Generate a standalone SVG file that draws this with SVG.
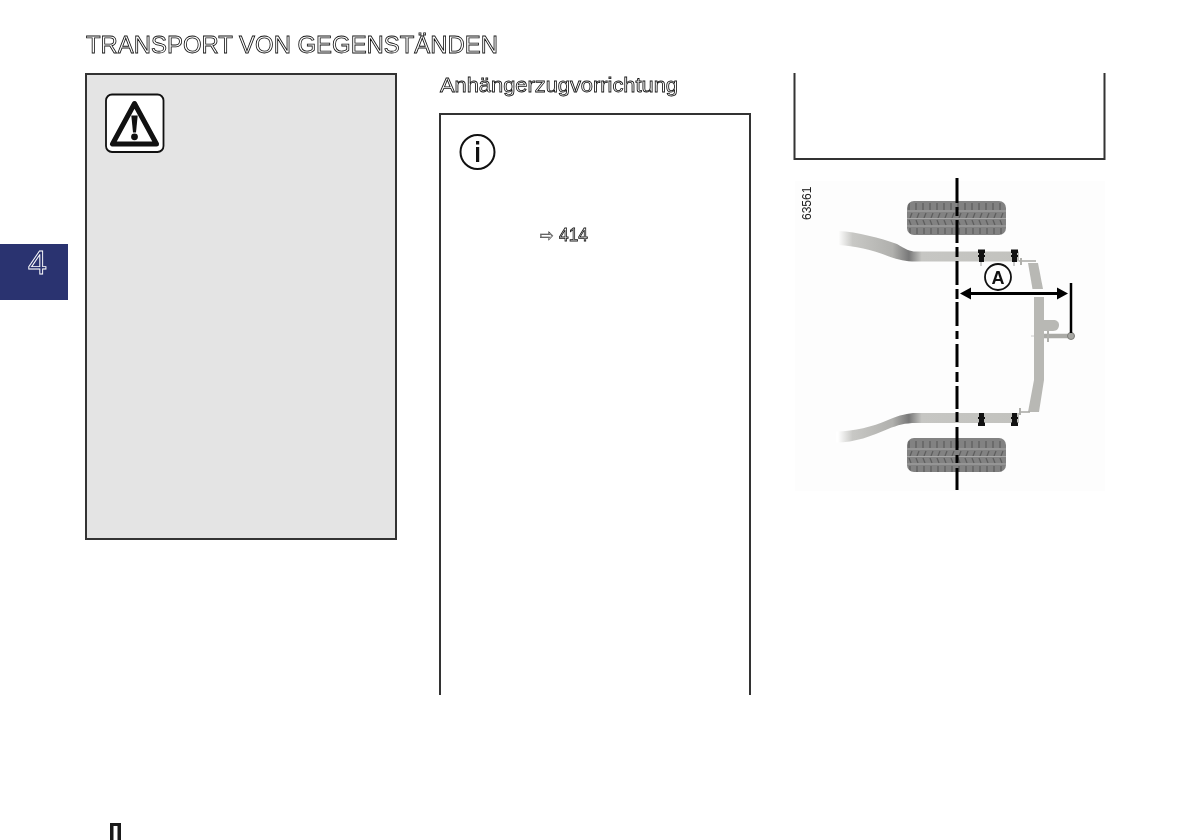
<svg xmlns="http://www.w3.org/2000/svg" width="1192" height="840" viewBox="0 0 1192 840">
<style>
text{filter:url(#gray)}
.o{font-family:"Liberation Sans",Arial,sans-serif;fill:#fff;stroke:#111;stroke-width:.8}
.b{fill:none;stroke:#333;stroke-width:2}
.k{fill:#111}
.bar{fill:#b8b8b4}
</style>
<defs>
<filter id="gray" x="-5%" y="-30%" width="110%" height="160%" color-interpolation-filters="sRGB"><feOffset dx="0" dy="0"/></filter>
<linearGradient id="beamTop" gradientUnits="userSpaceOnUse" x1="838" y1="0" x2="1020" y2="0">
<stop offset="0" stop-color="#fff"/><stop offset=".08" stop-color="#c8c8c5"/><stop offset=".3" stop-color="#b0b0ad"/><stop offset=".39" stop-color="#787878"/><stop offset=".46" stop-color="#c6c6c3"/><stop offset="1" stop-color="#c2c2be"/>
</linearGradient>
<pattern id="tread" patternUnits="userSpaceOnUse" x="907" y="201" width="7" height="34">
<rect width="7" height="34" fill="#828282"/>
<path d="M2 2V9M5 12l-2 5M2 19l2 5M3 27V33" stroke="#5e5e5e" stroke-width="1.300" fill="none"/>
<path d="M0 10H7M0 17.500H7M0 25H7" stroke="#a8a8a8" stroke-width="1" fill="none"/>
</pattern>
</defs>
<rect width="1192" height="840" fill="#fff"/>

<text class="o" x="86" y="53" font-size="23.500" textLength="412" lengthAdjust="spacingAndGlyphs">TRANSPORT VON GEGENSTÄNDEN</text>

<g id="tab">
<rect x="0" y="244" width="68" height="56" fill="#2a3370"/>
<text x="28" y="274" font-family="'Liberation Sans',Arial,sans-serif" font-size="34" fill="#2a3370" stroke="#fff" stroke-width=".9">4</text>
</g>

<g id="warning-box">
<rect x="86" y="74" width="310" height="465" fill="#e4e4e4" stroke="#333" stroke-width="2"/>
<rect x="106" y="94.500" width="57.500" height="57.500" rx="6" fill="#fff" stroke="#111" stroke-width="1.800"/>
<path d="M134.500 103.500 112.500 144H156.500Z" fill="#fff" stroke="#111" stroke-width="5" stroke-linejoin="round"/>
<path d="M131.300 115.500h6.400l-1.700 17h-3Z" class="k"/>
<circle cx="134.500" cy="136.800" r="3.400" class="k"/>
</g>

<g id="hitch-box">
<text class="o" x="440" y="92" font-size="20.500" textLength="238" lengthAdjust="spacingAndGlyphs">Anhängerzugvorrichtung</text>
<path class="b" d="M440 695V114H750V695"/>
<circle cx="477.500" cy="152" r="17" fill="#fff" stroke="#111" stroke-width="2"/>
<rect x="476" y="141" width="3.200" height="3.500" class="k"/>
<rect x="476" y="147" width="3.200" height="15" class="k"/>
<text x="539.500" y="241" font-family="'DejaVu Sans',sans-serif" font-size="17" fill="#fff" stroke="#333" stroke-width=".5">⇨</text>
<text class="o" x="559" y="241" font-size="18" textLength="29" lengthAdjust="spacingAndGlyphs">414</text>
</g>

<g id="note-box">
<path class="b" d="M794.500 73V159H1104.500V73"/>
</g>

<g id="figure">
<rect x="795" y="181" width="310" height="310" fill="#fdfdfd"/>
<text transform="translate(811 220) rotate(-90)" font-family="'Liberation Sans',Arial,sans-serif" font-size="12" fill="#222">63561</text>

<rect x="907" y="201" width="99" height="34" rx="7" fill="url(#tread)"/>
<rect x="907" y="438" width="99" height="34" rx="7" fill="url(#tread)"/>

<path d="M838 231C858 232 880 238 897 244C905 249 910 251.500 916 251.500H1019V261.500H916C905 261.500 899 260 889 256.500C873 250 855 246 838 245Z" fill="url(#beamTop)"/>
<path d="M836 431.500C855 431 872 427 888 420C900 415 908 413 916 413H1019V423H916C905 423 898 425 888 429C872 436 855 442.500 836 442.500Z" fill="url(#beamTop)"/>

<g id="bolts" class="k">
<path d="M978 249.500h7v3.500h-1v2h1v2h-1v5h-5v-5h-1v-2h1v-2h-1Z"/>
<path d="M1011 249.500h7v3.500h-1v2h1v2h-1v5h-5v-5h-1v-2h1v-2h-1Z"/>
<path d="M979 413h5v4h1v2h-1v3.500h1v3.500h-7v-3.500h1v-3.500h-1v-2h1Z"/>
<path d="M1012 413h5v4h1v2h-1v3.500h1v3.500h-7v-3.500h1v-3.500h-1v-2h1Z"/>
</g>
<path d="M981 262v4M1014 262v4" stroke="#999" stroke-width="1" fill="none"/>

<path class="bar" d="M1028 263H1038L1043 289H1032.500Z"/>
<path class="bar" d="M1034 297H1044V380L1039 412H1028L1034 380Z"/>
<path d="M1019 261H1036M1019 412H1030" stroke="#a8a8a4" stroke-width="1.500" fill="none"/>
<path d="M1021 258v7M1020 408v7" stroke="#b0b0ac" stroke-width="2" fill="none"/>

<path class="bar" d="M1044 320h9c4 0 6 2 6 5s-2 6-6 6h-9Z"/>
<path d="M1044 336H1068" stroke="#aaaaa6" stroke-width="4.500" fill="none"/>
<path d="M1048 331v11" stroke="#b0b0ac" stroke-width="2" fill="none"/>
<path d="M1031 336h3" stroke="#ccc" stroke-width="1" fill="none"/>
<circle cx="1071" cy="336" r="3.500" fill="#a6a6a2" stroke="#7c7c78" stroke-width="1"/>

<g id="centerline" stroke="#000" stroke-width="3" fill="none">
<path d="M957 178V203M957 207V216M957 220V243M957 247V257M957 261V285M957 289V299M957 302V326M957 331V339M957 344V367M957 372V382M957 386V409M957 412V422M957 427V450M957 455V463M957 468V490"/>
</g>
<g id="dimension">
<path d="M968 293.500H1060" stroke="#000" stroke-width="3" fill="none"/>
<path d="M960 293.500 971 287.500V299.500ZM1068 293.500 1057 287.500V299.500Z" fill="#000"/>
<path d="M1071 283V333" stroke="#000" stroke-width="2.500" fill="none"/>
<circle cx="998" cy="277" r="13" fill="none" stroke="#111" stroke-width="1.800"/>
<text x="998" y="283.500" text-anchor="middle" font-family="'Liberation Sans',Arial,sans-serif" font-weight="700" font-size="18" fill="#111">A</text>
</g>
</g>

<path id="page-mark" d="M110 823H121V840H117.500V826H113.500V840H110Z" fill="#1a1a1a"/>
</svg>
